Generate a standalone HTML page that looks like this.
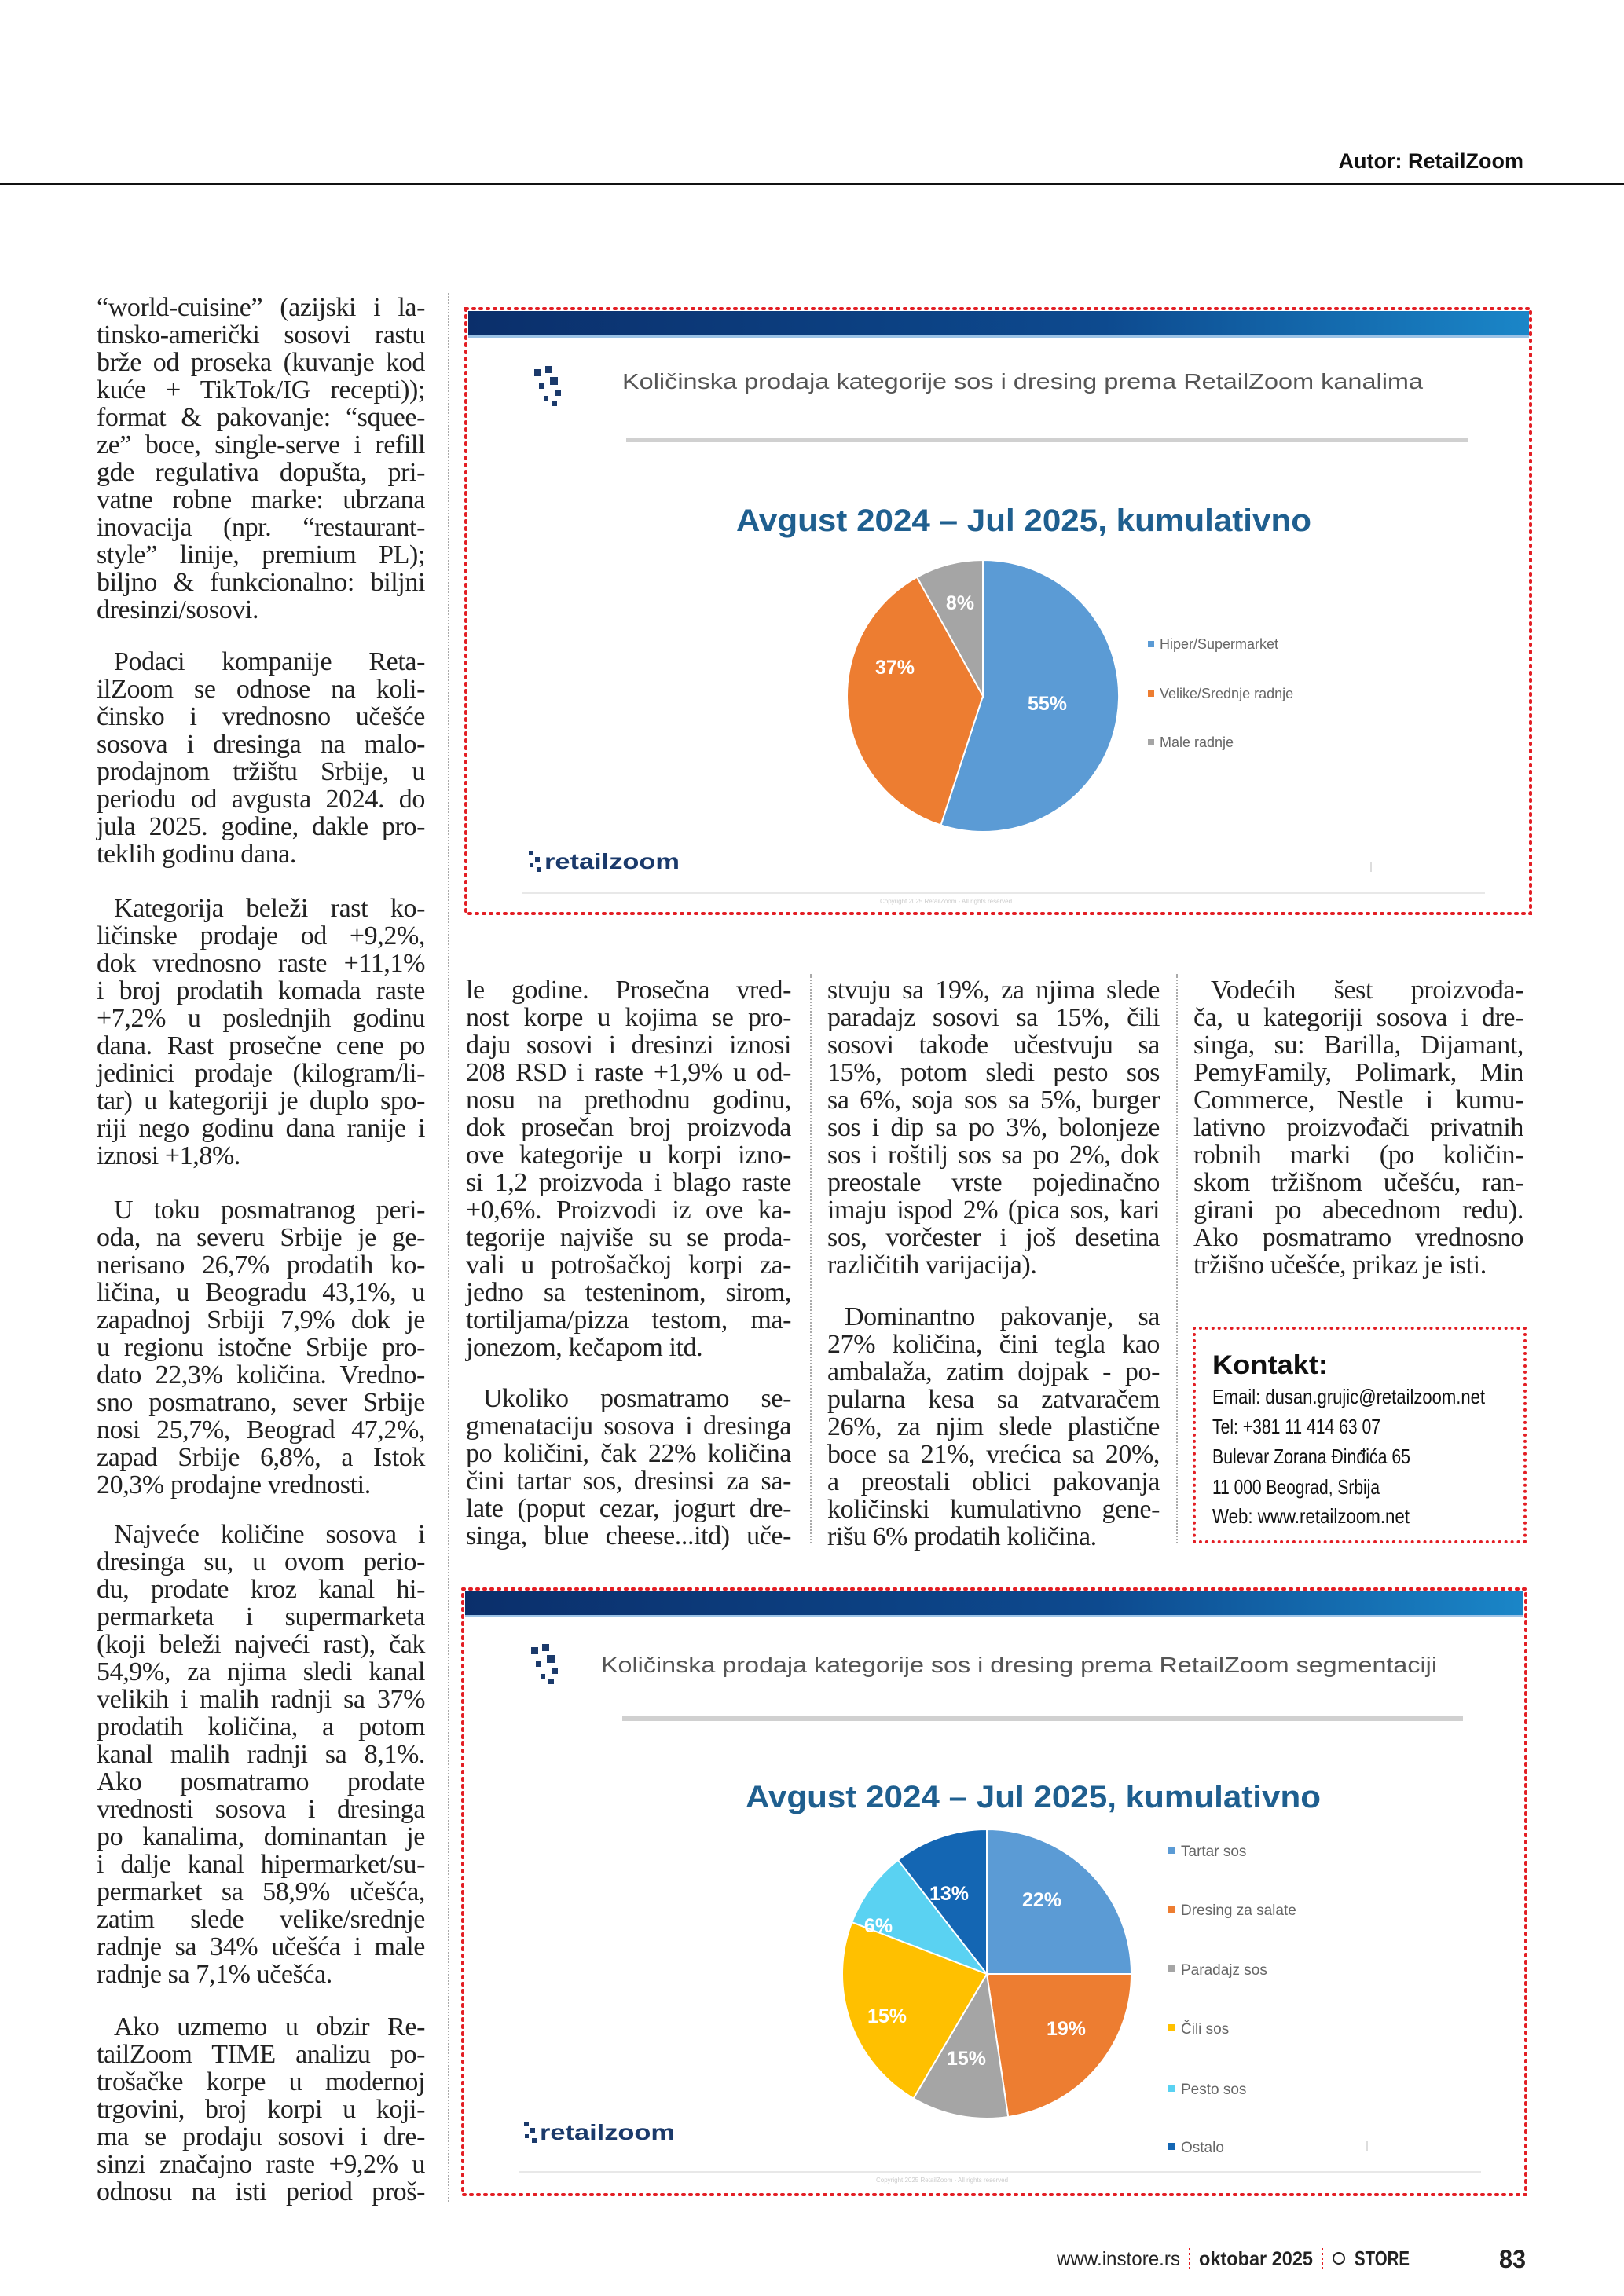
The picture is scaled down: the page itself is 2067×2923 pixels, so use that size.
<!DOCTYPE html>
<html><head><meta charset="utf-8"><style>
body{margin:0;background:#fff}
#pg{position:relative;width:2067px;height:2923px;overflow:hidden;background:#fff}
.p{position:absolute;font-family:"Liberation Serif",serif;font-size:34px;line-height:35px;color:#222;letter-spacing:-0.4px}
.l{white-space:nowrap;text-align:justify;text-align-last:justify;height:35px}
.e{text-align-last:left}
.i{padding-left:22px}
.vs{position:absolute;width:0;border-left:2px dotted #aaa}
.box{position:absolute;border:4px dotted #e31e24;box-sizing:border-box}
svg text{font-family:"Liberation Sans",sans-serif}
</style></head><body><div id="pg">

<div style="position:absolute;right:128px;top:190px;font-family:'Liberation Sans',sans-serif;font-weight:bold;font-size:27px;color:#111">Autor: RetailZoom</div>
<div style="position:absolute;left:0;top:233px;width:2067px;height:3px;background:#111"></div>

<div class="vs" style="left:570px;top:373px;height:2430px"></div>
<div class="vs" style="left:1031px;top:1240px;height:725px"></div>
<div class="vs" style="left:1497px;top:1240px;height:725px"></div>

<!-- column 1 -->
<div class="p" style="left:123px;top:374px;width:418px">
<div class="l">“world-cuisine” (azijski i la-</div>
<div class="l">tinsko-američki sosovi rastu</div>
<div class="l">brže od proseka (kuvanje kod</div>
<div class="l">kuće + TikTok/IG recepti));</div>
<div class="l">format &amp; pakovanje: “squee-</div>
<div class="l">ze” boce, single-serve i refill</div>
<div class="l">gde regulativa dopušta, pri-</div>
<div class="l">vatne robne marke: ubrzana</div>
<div class="l">inovacija (npr. “restaurant-</div>
<div class="l">style” linije, premium PL);</div>
<div class="l">biljno &amp; funkcionalno: biljni</div>
<div class="l e">dresinzi/sosovi.</div>
</div>
<div class="p" style="left:123px;top:825px;width:418px">
<div class="l i">Podaci kompanije Reta-</div>
<div class="l">ilZoom se odnose na koli-</div>
<div class="l">činsko i vrednosno učešće</div>
<div class="l">sosova i dresinga na malo-</div>
<div class="l">prodajnom tržištu Srbije, u</div>
<div class="l">periodu od avgusta 2024. do</div>
<div class="l">jula 2025. godine, dakle pro-</div>
<div class="l e">teklih godinu dana.</div>
</div>
<div class="p" style="left:123px;top:1139px;width:418px">
<div class="l i">Kategorija beleži rast ko-</div>
<div class="l">ličinske prodaje od +9,2%,</div>
<div class="l">dok vrednosno raste +11,1%</div>
<div class="l">i broj prodatih komada raste</div>
<div class="l">+7,2% u poslednjih godinu</div>
<div class="l">dana. Rast prosečne cene po</div>
<div class="l">jedinici prodaje (kilogram/li-</div>
<div class="l">tar) u kategoriji je duplo spo-</div>
<div class="l">riji nego godinu dana ranije i</div>
<div class="l e">iznosi +1,8%.</div>
</div>
<div class="p" style="left:123px;top:1523px;width:418px">
<div class="l i">U toku posmatranog peri-</div>
<div class="l">oda, na severu Srbije je ge-</div>
<div class="l">nerisano 26,7% prodatih ko-</div>
<div class="l">ličina, u Beogradu 43,1%, u</div>
<div class="l">zapadnoj Srbiji 7,9% dok je</div>
<div class="l">u regionu istočne Srbije pro-</div>
<div class="l">dato 22,3% količina. Vredno-</div>
<div class="l">sno posmatrano, sever Srbije</div>
<div class="l">nosi 25,7%, Beograd 47,2%,</div>
<div class="l">zapad Srbije 6,8%, a Istok</div>
<div class="l e">20,3% prodajne vrednosti.</div>
</div>
<div class="p" style="left:123px;top:1936px;width:418px">
<div class="l i">Najveće količine sosova i</div>
<div class="l">dresinga su, u ovom perio-</div>
<div class="l">du, prodate kroz kanal hi-</div>
<div class="l">permarketa i supermarketa</div>
<div class="l">(koji beleži najveći rast), čak</div>
<div class="l">54,9%, za njima sledi kanal</div>
<div class="l">velikih i malih radnji sa 37%</div>
<div class="l">prodatih količina, a potom</div>
<div class="l">kanal malih radnji sa 8,1%.</div>
<div class="l">Ako posmatramo prodate</div>
<div class="l">vrednosti sosova i dresinga</div>
<div class="l">po kanalima, dominantan je</div>
<div class="l">i dalje kanal hipermarket/su-</div>
<div class="l">permarket sa 58,9% učešća,</div>
<div class="l">zatim slede velike/srednje</div>
<div class="l">radnje sa 34% učešća i male</div>
<div class="l e">radnje sa 7,1% učešća.</div>
</div>
<div class="p" style="left:123px;top:2563px;width:418px">
<div class="l i">Ako uzmemo u obzir Re-</div>
<div class="l">tailZoom TIME analizu po-</div>
<div class="l">trošačke korpe u modernoj</div>
<div class="l">trgovini, broj korpi u koji-</div>
<div class="l">ma se prodaju sosovi i dre-</div>
<div class="l">sinzi značajno raste +9,2% u</div>
<div class="l">odnosu na isti period proš-</div>
</div>

<!-- column 2 -->
<div class="p" style="left:593px;top:1243px;width:414px">
<div class="l">le godine. Prosečna vred-</div>
<div class="l">nost korpe u kojima se pro-</div>
<div class="l">daju sosovi i dresinzi iznosi</div>
<div class="l">208 RSD i raste +1,9% u od-</div>
<div class="l">nosu na prethodnu godinu,</div>
<div class="l">dok prosečan broj proizvoda</div>
<div class="l">ove kategorije u korpi izno-</div>
<div class="l">si 1,2 proizvoda i blago raste</div>
<div class="l">+0,6%. Proizvodi iz ove ka-</div>
<div class="l">tegorije najviše su se proda-</div>
<div class="l">vali u potrošačkoj korpi za-</div>
<div class="l">jedno sa testeninom, sirom,</div>
<div class="l">tortiljama/pizza testom, ma-</div>
<div class="l e">jonezom, kečapom itd.</div>
</div>
<div class="p" style="left:593px;top:1763px;width:414px">
<div class="l i">Ukoliko posmatramo se-</div>
<div class="l">gmenataciju sosova i dresinga</div>
<div class="l">po količini, čak 22% količina</div>
<div class="l">čini tartar sos, dresinsi za sa-</div>
<div class="l">late (poput cezar, jogurt dre-</div>
<div class="l">singa, blue cheese...itd) uče-</div>
</div>

<!-- column 3 -->
<div class="p" style="left:1053px;top:1243px;width:423px">
<div class="l">stvuju sa 19%, za njima slede</div>
<div class="l">paradajz sosovi sa 15%, čili</div>
<div class="l">sosovi takođe učestvuju sa</div>
<div class="l">15%, potom sledi pesto sos</div>
<div class="l">sa 6%, soja sos sa 5%, burger</div>
<div class="l">sos i dip sa po 3%, bolonjeze</div>
<div class="l">sos i roštilj sos sa po 2%, dok</div>
<div class="l">preostale vrste pojedinačno</div>
<div class="l">imaju ispod 2% (pica sos, kari</div>
<div class="l">sos, vorčester i još desetina</div>
<div class="l e">različitih varijacija).</div>
</div>
<div class="p" style="left:1053px;top:1659px;width:423px">
<div class="l i">Dominantno pakovanje, sa</div>
<div class="l">27% količina, čini tegla kao</div>
<div class="l">ambalaža, zatim dojpak - po-</div>
<div class="l">pularna kesa sa zatvaračem</div>
<div class="l">26%, za njim slede plastične</div>
<div class="l">boce sa 21%, vrećica sa 20%,</div>
<div class="l">a preostali oblici pakovanja</div>
<div class="l">količinski kumulativno gene-</div>
<div class="l e">rišu 6% prodatih količina.</div>
</div>

<!-- column 4 -->
<div class="p" style="left:1519px;top:1243px;width:420px">
<div class="l i">Vodećih šest proizvođa-</div>
<div class="l">ča, u kategoriji sosova i dre-</div>
<div class="l">singa, su: Barilla, Dijamant,</div>
<div class="l">PemyFamily, Polimark, Min</div>
<div class="l">Commerce, Nestle i kumu-</div>
<div class="l">lativno proizvođači privatnih</div>
<div class="l">robnih marki (po količin-</div>
<div class="l">skom tržišnom učešću, ran-</div>
<div class="l">girani po abecednom redu).</div>
<div class="l">Ako posmatramo vrednosno</div>
<div class="l e">tržišno učešće, prikaz je isti.</div>
</div>

<!-- contact -->
<div class="box" style="left:1518px;top:1689px;width:425px;height:276px"></div>
<svg style="position:absolute;left:0;top:0" width="2067" height="2923">
<text x="1543" y="1749" font-size="34" font-weight="bold" fill="#111" textLength="147" lengthAdjust="spacingAndGlyphs">Kontakt:</text>
<g font-size="26" fill="#111">
<text x="1543" y="1787" textLength="347" lengthAdjust="spacingAndGlyphs">Email: dusan.grujic@retailzoom.net</text>
<text x="1543" y="1825" textLength="214" lengthAdjust="spacingAndGlyphs">Tel:   +381 11 414 63 07</text>
<text x="1543" y="1863" textLength="252" lengthAdjust="spacingAndGlyphs">Bulevar Zorana Đinđića 65</text>
<text x="1543" y="1902" textLength="213" lengthAdjust="spacingAndGlyphs">11 000 Beograd, Srbija</text>
<text x="1543" y="1939" textLength="251" lengthAdjust="spacingAndGlyphs">Web: www.retailzoom.net</text>
</g>

<defs><linearGradient id="bg" x1="0" x2="1"><stop offset="0" stop-color="#0b2f6b"/><stop offset="0.6" stop-color="#0d4a8f"/><stop offset="1" stop-color="#1a86c8"/></linearGradient></defs>

<!-- chart 1 -->
<rect x="596" y="396" width="1350" height="31" fill="url(#bg)"/>
<rect x="596" y="427" width="1350" height="3" fill="#9cc3e6"/>
<g fill="#1b3a6b"><rect x="680" y="470" width="9" height="9"/><rect x="694" y="466" width="9" height="9"/><rect x="700" y="480" width="10" height="10"/><rect x="686" y="488" width="7" height="7"/><rect x="706" y="496" width="8" height="8"/><rect x="692" y="504" width="6" height="6"/><rect x="702" y="510" width="7" height="7"/></g>
<text x="792" y="495" font-size="28" fill="#555" textLength="1019" lengthAdjust="spacingAndGlyphs">Količinska prodaja kategorije sos i dresing prema RetailZoom kanalima</text>
<rect x="797" y="557" width="1071" height="6" fill="#d0d0d0"/>
<text x="937" y="676" font-size="40" font-weight="bold" fill="#1f5f8f" textLength="732" lengthAdjust="spacingAndGlyphs">Avgust 2024 – Jul 2025, kumulativno</text>
<g stroke="#fff" stroke-width="2">
<path d="M1251,886 L1251,713 A173,173 0 1,1 1197.5,1050.5 Z" fill="#5b9bd5"/>
<path d="M1251,886 L1197.5,1050.5 A173,173 0 0,1 1167.1,734.7 Z" fill="#ed7d31"/>
<path d="M1251,886 L1167.1,734.7 A173,173 0 0,1 1251,713 Z" fill="#a5a5a5"/>
</g>
<g font-size="25" font-weight="bold" fill="#fff" text-anchor="middle">
<text x="1333" y="904">55%</text><text x="1139" y="858">37%</text><text x="1222" y="776">8%</text></g>
<g font-size="18" fill="#666">
<rect x="1461" y="816" width="8" height="8" fill="#5b9bd5"/><text x="1476" y="826">Hiper/Supermarket</text>
<rect x="1461" y="879" width="8" height="8" fill="#ed7d31"/><text x="1476" y="889">Velike/Srednje radnje</text>
<rect x="1461" y="941" width="8" height="8" fill="#a5a5a5"/><text x="1476" y="951">Male radnje</text></g>
<g fill="#1b3a6b"><rect x="673" y="1083" width="6" height="6"/><rect x="681" y="1091" width="6" height="6"/><rect x="674" y="1099" width="5" height="5"/><rect x="683" y="1104" width="6" height="6"/></g>
<text x="693" y="1106" font-size="28" font-weight="bold" fill="#1b3a6b" textLength="172" lengthAdjust="spacingAndGlyphs">retailzoom</text>
<rect x="665" y="1136" width="1225" height="2" fill="#e8e8e8"/>
<text x="1120" y="1150" font-size="8" fill="#ccc">Copyright 2025 RetailZoom - All rights reserved</text>
<rect x="1744" y="1098" width="2" height="12" fill="#ddd"/>
<rect x="593" y="393" width="1355" height="770" fill="none" stroke="#e31e24" stroke-width="4" stroke-dasharray="2,7" stroke-linecap="round"/>

<!-- chart 2 -->
<rect x="592" y="2025" width="1347" height="31" fill="url(#bg)"/>
<rect x="592" y="2056" width="1347" height="3" fill="#9cc3e6"/>
<g fill="#1b3a6b"><rect x="676" y="2097" width="9" height="9"/><rect x="690" y="2093" width="9" height="9"/><rect x="696" y="2107" width="10" height="10"/><rect x="682" y="2115" width="7" height="7"/><rect x="702" y="2123" width="8" height="8"/><rect x="688" y="2131" width="6" height="6"/><rect x="698" y="2137" width="7" height="7"/></g>
<text x="765" y="2129" font-size="28" fill="#555" textLength="1064" lengthAdjust="spacingAndGlyphs">Količinska prodaja kategorije sos i dresing prema RetailZoom segmentaciji</text>
<rect x="792" y="2185" width="1070" height="6" fill="#d0d0d0"/>
<text x="949" y="2301" font-size="40" font-weight="bold" fill="#1f5f8f" textLength="732" lengthAdjust="spacingAndGlyphs">Avgust 2024 – Jul 2025, kumulativno</text>
<g stroke="#fff" stroke-width="2">
<path d="M1256,2513 L1256,2329 A184,184 0 0,1 1440,2513 Z" fill="#5b9bd5"/>
<path d="M1256,2513 L1440,2513 A184,184 0 0,1 1283.2,2695 Z" fill="#ed7d31"/>
<path d="M1256,2513 L1283.2,2695 A184,184 0 0,1 1162.6,2671.5 Z" fill="#a5a5a5"/>
<path d="M1256,2513 L1162.6,2671.5 A184,184 0 0,1 1084.2,2447.1 Z" fill="#ffc000"/>
<path d="M1256,2513 L1084.2,2447.1 A184,184 0 0,1 1143,2368 Z" fill="#5ad2f2"/>
<path d="M1256,2513 L1143,2368 A184,184 0 0,1 1256,2329 Z" fill="#1466b3"/>
</g>
<g font-size="25" font-weight="bold" fill="#fff" text-anchor="middle">
<text x="1326" y="2427">22%</text><text x="1208" y="2419">13%</text><text x="1118" y="2460">6%</text>
<text x="1129" y="2575">15%</text><text x="1230" y="2629">15%</text><text x="1357" y="2591">19%</text></g>
<g font-size="19" fill="#666">
<rect x="1486" y="2351" width="9" height="9" fill="#5b9bd5"/><text x="1503" y="2363">Tartar sos</text>
<rect x="1486" y="2426" width="9" height="9" fill="#ed7d31"/><text x="1503" y="2438">Dresing za salate</text>
<rect x="1486" y="2502" width="9" height="9" fill="#a5a5a5"/><text x="1503" y="2514">Paradajz sos</text>
<rect x="1486" y="2577" width="9" height="9" fill="#ffc000"/><text x="1503" y="2589">Čili sos</text>
<rect x="1486" y="2654" width="9" height="9" fill="#5ad2f2"/><text x="1503" y="2666">Pesto sos</text>
<rect x="1486" y="2728" width="9" height="9" fill="#1466b3"/><text x="1503" y="2740">Ostalo</text></g>
<g fill="#1b3a6b"><rect x="667" y="2701" width="6" height="6"/><rect x="675" y="2709" width="6" height="6"/><rect x="668" y="2717" width="5" height="5"/><rect x="677" y="2722" width="6" height="6"/></g>
<text x="687" y="2724" font-size="28" font-weight="bold" fill="#1b3a6b" textLength="172" lengthAdjust="spacingAndGlyphs">retailzoom</text>
<rect x="660" y="2764" width="1225" height="2" fill="#e8e8e8"/>
<text x="1115" y="2778" font-size="8" fill="#ccc">Copyright 2025 RetailZoom - All rights reserved</text>
<rect x="1739" y="2726" width="2" height="12" fill="#ddd"/>
<rect x="589" y="2023" width="1353" height="771" fill="none" stroke="#e31e24" stroke-width="4" stroke-dasharray="2,7" stroke-linecap="round"/>

<!-- footer -->
<text x="1345" y="2884" font-size="25" fill="#222" textLength="157" lengthAdjust="spacingAndGlyphs">www.instore.rs</text>
<line x1="1514" y1="2862" x2="1514" y2="2890" stroke="#e31e24" stroke-width="2" stroke-dasharray="3,3"/>
<text x="1526" y="2884" font-size="25" font-weight="bold" fill="#222" textLength="145" lengthAdjust="spacingAndGlyphs">oktobar 2025</text>
<line x1="1683" y1="2862" x2="1683" y2="2890" stroke="#e31e24" stroke-width="2" stroke-dasharray="3,3"/>
<circle cx="1704" cy="2875" r="7" fill="none" stroke="#222" stroke-width="2"/>
<text x="1724" y="2884" font-size="26" font-weight="bold" fill="#222" textLength="70" lengthAdjust="spacingAndGlyphs">STORE</text>
<text x="1908" y="2887" font-size="32" font-weight="bold" fill="#222" textLength="34" lengthAdjust="spacingAndGlyphs">83</text>
</svg>
</div></body></html>
